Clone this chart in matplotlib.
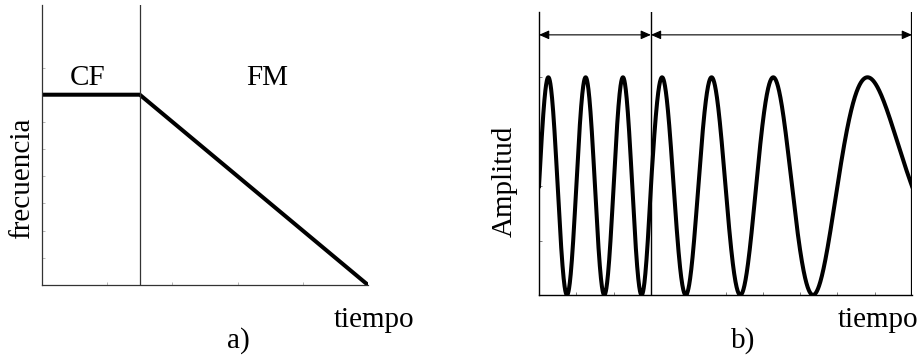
import numpy as np
import matplotlib
matplotlib.use("Agg")
import matplotlib.pyplot as plt

plt.rcParams['font.family'] = ['Liberation Serif', 'DejaVu Serif']

# a) frequency profile: constant part followed by a linear sweep down
freq_time = [0.0, 1.5, 5.0]
freq_value = [7.0, 7.0, 0.0]
cf_end_a = 1.5

# b) signal: CF section then FM section (cycles per time unit)
cf_end_b = 3.0
t_end_b = 10.0
cf_freq = 1.0
fm_freq_start = 0.85
fm_freq_end = 0.15
arrow_level = 1.39

fig = plt.figure(figsize=(9.21, 3.56), dpi=100)

# ---------- a) ----------
ax1 = fig.add_axes([42 / 921, 71 / 356, 326 / 921, 280 / 356])
ax1.plot(freq_time, freq_value, color='black', lw=2.9, solid_capstyle='butt')
ax1.axvline(cf_end_a, color='#333333', lw=0.9)
ax1.set_xlim(0, 5)
ax1.set_ylim(0, 10.3)
ax1.spines['top'].set_visible(False)
ax1.spines['right'].set_visible(False)
for s in ('left', 'bottom'):
    ax1.spines[s].set_linewidth(0.9)
    ax1.spines[s].set_color('#333333')
ax1.set_xticks([1, 2, 3, 4])
ax1.set_yticks(range(1, 9))
ax1.tick_params(direction='in', length=2.5, width=0.6, colors='#aaaaaa',
                labelbottom=False, labelleft=False)
ax1.text(0.705, 7.6, 'CF', fontsize=21, ha='center', va='center')
ax1.text(3.45, 7.6, 'FM', fontsize=21, ha='center', va='center')
ax1.text(-0.061, 0.382, 'frecuencia', fontsize=21, rotation=90,
         ha='center', va='center', transform=ax1.transAxes)
ax1.text(1.018, -0.15, 'tiempo', fontsize=21, ha='center', va='baseline',
         transform=ax1.transAxes)
ax1.text(0.601, -0.225, 'a)', fontsize=21, ha='center', va='baseline',
         transform=ax1.transAxes)

# ---------- b) ----------
ax2 = fig.add_axes([539 / 921, 61 / 356, 373 / 921, 283 / 356])
t = np.linspace(0, t_end_b, 2000)
tau = np.clip(t - cf_end_b, 0, None)
sweep = (fm_freq_start - fm_freq_end) / (2 * (t_end_b - cf_end_b))
phase = np.where(t < cf_end_b, cf_freq * t,
                 cf_freq * cf_end_b + fm_freq_start * tau - sweep * tau ** 2)
ax2.plot(t, np.sin(2 * np.pi * phase), color='black', lw=2.9)
ax2.axvline(cf_end_b, color='black', lw=1.0)
ax2.axvline(t_end_b, color='black', lw=1.6)
ax2.set_xlim(0, t_end_b)
ax2.set_ylim(-1, 1.6)
ax2.spines['top'].set_visible(False)
ax2.spines['right'].set_visible(False)
for s in ('left', 'bottom'):
    ax2.spines[s].set_linewidth(1.0)
ax2.set_xticks(range(1, 10))
ax2.set_yticks([-0.5, 0, 0.5, 1])
ax2.tick_params(direction='in', length=2.5, width=0.6, colors='#666666',
                labelbottom=False, labelleft=False)
for x0, x1 in [(0, cf_end_b), (cf_end_b, t_end_b)]:
    ax2.annotate('', xy=(x1, arrow_level), xytext=(x0, arrow_level),
                 arrowprops=dict(arrowstyle='<|-|>,head_length=0.5,head_width=0.22',
                                 color='black', lw=0.8, shrinkA=0, shrinkB=0,
                                 mutation_scale=12))
ax2.text(-0.091, 0.403, 'Amplitud', fontsize=21, rotation=90,
         ha='center', va='center', transform=ax2.transAxes)
ax2.text(0.909, -0.113, 'tiempo', fontsize=21, ha='center', va='baseline',
         transform=ax2.transAxes)
ax2.text(0.547, -0.187, 'b)', fontsize=21, ha='center', va='baseline',
         transform=ax2.transAxes)

fig.savefig('out.png', dpi=100)
